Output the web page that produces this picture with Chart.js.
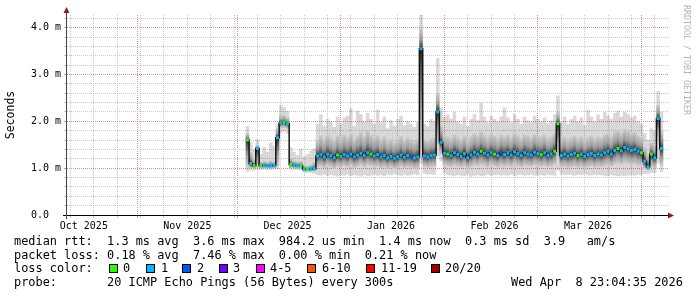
<!DOCTYPE html>
<html><head><meta charset="utf-8">
<script src="https://cdn.jsdelivr.net/npm/chart.js@4.4.1/dist/chart.umd.min.js"></script>
<style>
html,body{margin:0;padding:0;background:#fff;}
#wrap{position:relative;width:697px;height:297px;overflow:hidden;background:#fff;}
#c{position:absolute;left:0;top:0;}
.t{position:absolute;font-family:'DejaVu Sans Mono',monospace;font-size:11.9px;color:#000;white-space:pre;line-height:13.7px;}
.box{position:absolute;width:7px;height:7px;border:1px solid #000;}
#wm{position:absolute;left:682px;top:5px;font-family:'DejaVu Sans Mono',monospace;font-size:8.3px;color:#b4b4b4;writing-mode:vertical-rl;white-space:pre;line-height:10px;}
</style></head><body>
<div id="wrap">
<canvas id="c" width="697" height="297"></canvas>
<div class="t" style="left:14px;top:234.8px">median rtt:  1.3 ms avg  3.6 ms max  984.2 us min  1.4 ms now  0.3 ms sd  3.9   am/s
packet loss: 0.18 % avg  7.46 % max  0.00 % min  0.21 % now
loss color:
probe:       20 ICMP Echo Pings (56 Bytes) every 300s</div>
<div class="t" style="left:511px;top:275.9px">Wed Apr  8 23:04:35 2026</div>
<div id="lossLegend"></div>
<div id="wm">RRDTOOL / TOBI OETIKER</div>
</div>
<script>
// ---- data (time axis in days since 2025-10-01) ----
const firstDay = 64;
const median = [
1.60,1.10,1.05,1.42,1.05,1.06,1.05,1.05,1.06,1.65,
1.97,1.98,1.95,1.08,1.06,1.05,1.05,0.98,0.97,0.98,
0.99,1.26,1.29,1.24,1.30,1.27,1.22,1.28,1.25,1.29,
1.26,1.30,1.24,1.28,1.32,1.27,1.33,1.30,1.26,1.29,
1.24,1.27,1.22,1.25,1.21,1.24,1.28,1.23,1.27,1.25,
1.22,1.24,3.55,1.26,1.24,1.27,1.28,2.20,1.55,1.32,
1.30,1.27,1.33,1.29,1.25,1.31,1.22,1.28,1.34,1.30,
1.36,1.32,1.28,1.33,1.30,1.27,1.32,1.29,1.33,1.28,
1.35,1.31,1.27,1.33,1.30,1.28,1.34,1.31,1.29,1.33,
1.27,1.30,1.36,1.95,1.27,1.30,1.26,1.29,1.32,1.27,
1.30,1.25,1.29,1.31,1.27,1.30,1.28,1.33,1.36,1.30,
1.38,1.42,1.37,1.44,1.41,1.38,1.40,1.36,1.33,1.15,
1.03,1.30,1.22,2.06,1.42];
const smokeMin = [
0.92,0.95,0.95,0.97,0.96,0.97,0.96,0.96,0.97,0.98,
1.75,1.78,1.74,0.97,0.97,0.96,0.96,0.90,0.90,0.90,
0.88,0.85,0.84,0.86,0.83,0.85,0.84,0.82,0.85,0.84,
0.86,0.83,0.85,0.84,0.82,0.85,0.83,0.84,0.86,0.84,
0.85,0.83,0.86,0.85,0.87,0.85,0.84,0.86,0.84,0.85,
0.87,0.85,1.10,0.88,0.86,0.87,0.86,1.25,1.15,0.90,
0.85,0.84,0.83,0.85,0.84,0.83,0.86,0.82,0.84,0.85,
0.83,0.84,0.86,0.84,0.85,0.86,0.84,0.85,0.84,0.86,
0.83,0.85,0.86,0.84,0.85,0.86,0.84,0.85,0.85,0.84,
0.86,0.85,0.84,0.95,0.86,0.85,0.86,0.85,0.84,0.86,
0.85,0.87,0.85,0.84,0.86,0.85,0.85,0.84,0.83,0.85,
0.84,0.83,0.84,0.83,0.84,0.85,0.84,0.86,0.86,0.88,
0.88,0.90,0.90,1.10,0.92];
const smokeLo = [
1.02,1.00,1.00,1.03,1.00,1.00,1.00,1.00,1.00,1.05,
1.85,1.86,1.84,1.00,1.00,1.00,1.00,0.93,0.93,0.93,
0.93,1.02,1.03,1.00,1.04,1.02,0.99,1.03,1.01,1.04,
1.02,1.05,1.00,1.03,1.06,1.02,1.06,1.04,1.02,1.04,
1.00,1.02,0.99,1.01,0.98,1.00,1.03,1.00,1.02,1.01,
0.99,1.00,1.25,1.02,1.01,1.02,1.03,1.50,1.30,1.05,
1.03,1.02,1.05,1.03,1.01,1.04,0.99,1.02,1.06,1.04,
1.07,1.05,1.02,1.06,1.04,1.02,1.05,1.03,1.05,1.02,
1.07,1.04,1.02,1.05,1.04,1.03,1.06,1.04,1.03,1.05,
1.02,1.03,1.07,1.20,1.02,1.03,1.01,1.02,1.04,1.01,
1.03,1.00,1.02,1.04,1.01,1.03,1.02,1.04,1.06,1.03,
1.07,1.10,1.07,1.11,1.09,1.07,1.08,1.05,1.04,0.98,
0.95,1.02,1.00,1.60,1.05];
const smokeHi = [
1.75,1.35,1.20,1.50,1.13,1.15,1.13,1.16,1.14,1.85,
2.12,2.13,2.08,1.22,1.16,1.14,1.15,1.06,1.05,1.07,
1.12,1.60,1.70,1.62,1.72,1.65,1.60,1.70,1.64,1.72,
1.66,1.75,1.62,1.70,1.78,1.68,1.80,1.72,1.66,1.70,
1.62,1.68,1.58,1.62,1.56,1.60,1.68,1.60,1.66,1.62,
1.58,1.62,4.00,1.62,1.60,1.64,1.66,2.60,1.90,1.70,
1.68,1.65,1.72,1.68,1.62,1.70,1.60,1.68,1.75,1.70,
1.78,1.72,1.66,1.74,1.70,1.65,1.72,1.68,1.72,1.66,
1.76,1.70,1.64,1.72,1.70,1.66,1.74,1.70,1.68,1.72,
1.65,1.68,1.76,2.20,1.64,1.68,1.62,1.66,1.70,1.64,
1.68,1.60,1.66,1.70,1.64,1.68,1.66,1.72,1.76,1.68,
1.78,1.82,1.76,1.84,1.80,1.76,1.78,1.70,1.66,1.45,
1.30,1.55,1.50,2.35,1.80];
const smokeMax = [
1.90,1.55,1.40,1.62,1.30,1.45,1.35,1.55,1.48,1.95,
2.35,2.30,2.22,1.45,1.35,1.28,1.42,1.25,1.30,1.38,
1.42,1.95,2.15,1.90,2.05,2.00,1.88,2.10,1.95,2.08,
2.12,2.28,1.90,2.22,2.15,2.00,2.18,2.05,1.95,2.25,
1.98,2.10,1.85,2.02,1.90,2.05,2.12,1.92,2.00,1.95,
1.88,1.98,4.30,1.95,1.90,2.05,2.00,3.35,2.30,2.10,
2.15,2.05,2.20,2.00,1.95,2.10,1.90,2.05,2.15,2.02,
2.40,2.10,1.98,2.12,2.05,2.00,2.10,2.30,2.08,1.98,
2.15,2.05,1.95,2.10,2.02,1.98,2.12,2.05,2.00,2.08,
1.96,2.02,2.15,2.55,2.00,2.10,1.95,2.05,2.12,2.00,
2.08,1.92,2.25,2.10,2.00,2.15,2.05,2.20,2.12,2.05,
2.18,2.22,2.10,2.20,2.15,2.08,2.12,2.00,1.95,1.75,
1.60,1.85,1.80,2.65,2.20];
const lossClass = [
0,1,0,1,0,1,1,1,1,1,
1,0,1,0,1,1,0,1,0,1,
1,1,1,1,1,1,1,0,1,1,
1,1,1,1,1,1,1,0,1,1,
1,1,1,1,1,1,1,1,1,2,
1,1,1,1,1,1,1,1,1,1,
0,1,1,1,1,1,1,1,1,1,
0,1,1,1,0,1,2,1,1,1,
1,1,1,1,1,1,1,1,0,1,
1,1,0,0,1,1,1,1,1,0,
1,1,1,1,1,1,1,1,1,1,
1,0,1,1,1,1,1,1,0,1,
1,0,1,1,1];
const lossLabels = ['0','1','2','3','4-5','6-10','11-19','20/20'];
const lossColors = ['#26ff00','#00b8ff','#0059ff','#7000ff','#ff00ff','#ff5500','#ff0000','#a10000'];
const monthLabels = ['Oct 2025','Nov 2025','Dec 2025','Jan 2026','Feb 2026','Mar 2026'];
const monthLabelDays = [15,46,76,107,138,166];
const monthStartDays = [31,61,92,123,151,182];
const weekDays = [11,18,25,32,39,46,53,60,67,74,81,88,95,102,109,116,123,130,137,144,151,158,165,172,179,186];
const yTickLabels = ['0.0  ','1.0 m','2.0 m','3.0 m','4.0 m'];
const xMin = 9.96, xMax = 189.96, yMax = 4.27;

// ---- loss colour legend (HTML text) ----
const boxX = [109,145.7,182,219,256,307.3,365.7,430.7];
const labX = [123,161,197,233,270,322,381,445];
const ll = document.getElementById('lossLegend');
lossLabels.forEach((lab,i)=>{
  const b=document.createElement('div'); b.className='box';
  b.style.left=boxX[i]+'px'; b.style.top='264.3px'; b.style.background=lossColors[i]; ll.appendChild(b);
  const t=document.createElement('div'); t.className='t'; t.textContent=lab;
  t.style.left=labX[i]+'px'; t.style.top='262.2px'; ll.appendChild(t);
});

// ---- chart ----
const days = median.map((_,i)=>firstDay+i);
const xTicks = Array.from(new Set([...weekDays,...monthStartDays,...monthLabelDays])).sort((a,b)=>a-b);
const MAJOR = '#e58c8c', MINOR = '#c8c8c8';
function xGridColor(v){
  if (monthStartDays.includes(v)) return MAJOR;
  if (weekDays.includes(v)) return MINOR;
  return 'rgba(0,0,0,0)';
}
function smokeGrad(ctx){
  const chart = ctx.chart;
  if (!chart.chartArea || ctx.type !== 'data') return '#777';
  const i = ctx.dataIndex, y = chart.scales.y;
  const top = y.getPixelForValue(smokeHi[i]), bot = y.getPixelForValue(smokeLo[i]), m = y.getPixelForValue(median[i]);
  if (bot - top < 1) return '#333';
  const g = chart.ctx.createLinearGradient(0, top, 0, bot);
  let t = (m - top) / (bot - top); t = Math.min(Math.max(t, 0.03), 0.97);
  g.addColorStop(0, '#cdcdcd');
  g.addColorStop(t*0.55, '#9c9c9c');
  g.addColorStop(t*0.88, '#505050');
  g.addColorStop(t, '#202020');
  g.addColorStop(t + (1-t)*0.15, '#505050');
  g.addColorStop(t + (1-t)*0.55, '#a0a0a0');
  g.addColorStop(1, '#cdcdcd');
  return g;
}
const axesPlugin = {
  id: 'axes',
  afterDraw(chart){
    const c = chart.ctx, a = chart.chartArea;
    c.save();
    c.lineWidth = 1;
    c.strokeStyle = '#000';
    c.beginPath(); c.moveTo(63, a.bottom + 0.5); c.lineTo(a.right + 2, a.bottom + 0.5); c.stroke();
    c.strokeStyle = '#444';
    c.beginPath(); c.moveTo(a.left - 0.5, a.bottom + 4); c.lineTo(a.left - 0.5, a.top - 3); c.stroke();
    c.fillStyle = '#8f1c1c';
    c.beginPath(); c.moveTo(a.right, a.bottom + 0.5 - 3); c.lineTo(a.right + 6, a.bottom + 0.5); c.lineTo(a.right, a.bottom + 0.5 + 3); c.closePath(); c.fill();
    c.beginPath(); c.moveTo(a.left - 0.5 - 3, a.top - 2); c.lineTo(a.left - 0.5, a.top - 8); c.lineTo(a.left - 0.5 + 3, a.top - 2); c.closePath(); c.fill();
    c.restore();
  }
};
Chart.defaults.font.family = "'DejaVu Sans Mono', monospace";
Chart.defaults.color = '#000';
new Chart(document.getElementById('c'), {
  type: 'bar',
  data: {
    datasets: [
      { type: 'line', order: 0, data: days.map((d,i)=>({x:d, y:median[i]})),
        borderColor: '#111', borderWidth: 1.5, stepped: 'middle', fill: false,
        pointStyle: 'rect', pointRadius: 2.1, pointHoverRadius: 0, pointBorderWidth: 0,
        pointBackgroundColor: lossClass.map(k=>lossColors[k]) },
      { type: 'bar', order: 1, grouped: false, data: days.map((d,i)=>({x:d, y:[smokeLo[i], smokeHi[i]]})),
        backgroundColor: smokeGrad, borderWidth: 0, borderSkipped: false, barPercentage: 1.06, categoryPercentage: 1 },
      { type: 'bar', order: 2, grouped: false, data: days.map((d,i)=>({x:d, y:[smokeMin[i], smokeMax[i]]})),
        backgroundColor: 'rgba(0,0,0,0.15)', borderWidth: 0, borderSkipped: false, barPercentage: 1.06, categoryPercentage: 1 }
    ]
  },
  options: {
    responsive: false, animation: false, events: [], devicePixelRatio: 1,
    layout: { padding: { left: 0, right: 29, top: 15, bottom: 0 } },
    plugins: { legend: { display: false }, tooltip: { enabled: false } },
    scales: {
      x: {
        type: 'linear', min: xMin, max: xMax, offset: false,
        afterBuildTicks: s => { s.ticks = xTicks.map(v=>({value:v})); },
        afterFit: s => { s.height = 82; },
        ticks: { autoSkip: false, maxRotation: 0, padding: 2, font: { size: 10 },
          callback: v => { const k = monthLabelDays.indexOf(v); return k >= 0 ? monthLabels[k] : ''; } },
        grid: { offset: false, drawTicks: true, tickLength: 3,
          color: ctx => ctx.tick ? xGridColor(ctx.tick.value) : 'rgba(0,0,0,0)' },
        border: { display: false, dash: [1,1] }
      },
      y: {
        type: 'linear', min: 0, max: yMax,
        afterBuildTicks: s => { const t=[]; for (let k=0;k<=21;k++) t.push({value:k/5}); s.ticks = t; },
        afterFit: s => { s.width = 67; },
        ticks: { autoSkip: false, padding: 3, font: { size: 10 },
          callback: v => { const r = Math.round(v); return Math.abs(v - r) < 1e-6 ? yTickLabels[r] : ''; } },
        grid: { drawTicks: true, tickLength: 3,
          color: ctx => { if (!ctx.tick) return 'rgba(0,0,0,0)'; const v = ctx.tick.value; return Math.abs(v - Math.round(v)) < 1e-6 ? MAJOR : MINOR; } },
        border: { display: false, dash: [1,1] },
        title: { display: true, text: 'Seconds', font: { size: 11.5 }, padding: { top: 4, bottom: 0 } }
      }
    }
  },
  plugins: [axesPlugin]
});
</script>
</body></html>
